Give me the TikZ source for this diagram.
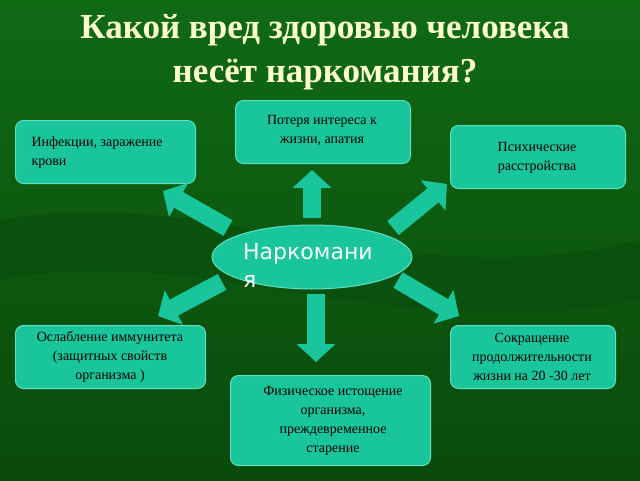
\documentclass[tikz,border=0pt]{standalone}
\usepackage{fontspec}
\setmainfont{Liberation Serif}
\newfontfamily\dejavu{DejaVu Sans}
\usetikzlibrary{arrows.meta,shapes.geometric}
\definecolor{bgA}{HTML}{0A4A0C}
\definecolor{bgB}{HTML}{0F6A14}
\definecolor{boxfill}{HTML}{19C59A}
\definecolor{boxline}{HTML}{5FE0BE}
\definecolor{titlec}{HTML}{FFFFD0}
\tikzset{
  infobox/.style={draw=boxline,line width=1pt,fill=boxfill,rounded corners=8pt,anchor=north west,inner sep=0pt},
  boxtext/.style={font=\fontsize{14}{19}\selectfont,align=center,text=black},
  bigarrow/.style={draw=boxfill,line width=18pt,-{Triangle[width=38pt,length=18pt]}},
}
\begin{document}
\begin{tikzpicture}[x=1pt,y=-1pt]
\useasboundingbox (0,0) rectangle (640,480);
\shade[top color=bgB,bottom color=bgA] (0,0) rectangle (640,480);
\fill[bgB!70!black,opacity=0.5] (0,220) .. controls (200,180) and (400,300) .. (640,240) -- (640,300) .. controls (400,350) and (200,240) .. (0,280) -- cycle;
% title
\node[font=\bfseries\fontsize{35}{44}\selectfont,text=titlec,align=center] (title) at (325,52) {Какой вред здоровью человека\\несёт наркомания?};
% boxes
\node[infobox,minimum width=175pt,minimum height=63pt] (b1) at (235,100) {};
\node[boxtext] (t1) at (322,130) {Потеря интереса к\\жизни, апатия};
\node[infobox,minimum width=180pt,minimum height=63pt] (b2) at (15,120) {};
\node[boxtext,align=left,anchor=north west] (t2) at (28,133) {Инфекции, заражение\\крови};
\node[infobox,minimum width=175pt,minimum height=63pt] (b3) at (450,125) {};
\node[boxtext] (t3) at (537,158) {Психические\\расстройства};
\node[infobox,minimum width=190pt,minimum height=63pt] (b4) at (15,325) {};
\node[boxtext] (t4) at (110,357) {Ослабление иммунитета\\(защитных свойств\\организма )};
\node[infobox,minimum width=165pt,minimum height=63pt] (b5) at (450,325) {};
\node[boxtext] (t5) at (532,357) {Сокращение\\продолжительности\\жизни на 20 -30 лет};
\node[infobox,minimum width=200pt,minimum height=90pt] (b6) at (230,375) {};
\node[boxtext] (t6) at (333,421) {Физическое истощение\\организма,\\преждевременное\\старение};
% center
\node[ellipse,draw=boxline,line width=1pt,fill=boxfill,minimum width=200pt,minimum height=64pt] (c) at (312,257) {};
\node[font=\dejavu\fontsize{22}{28}\selectfont,text=white,align=left,anchor=north west,inner sep=0pt] (ct) at (243,243) {Наркомани\\я};
% arrows
\coordinate (a1s) at (312,218); \coordinate (a1e) at (312,170);
\coordinate (a2s) at (228,228); \coordinate (a2e) at (163,191);
\coordinate (a3s) at (393,228); \coordinate (a3e) at (447,184);
\coordinate (a4s) at (222,282); \coordinate (a4e) at (158,316);
\coordinate (a5s) at (398,280); \coordinate (a5e) at (459,316);
\coordinate (a6s) at (316,294); \coordinate (a6e) at (316,362);
\foreach \i in {1,...,6} \draw[bigarrow] (a\i s) -- (a\i e);
\end{tikzpicture}
\end{document}
